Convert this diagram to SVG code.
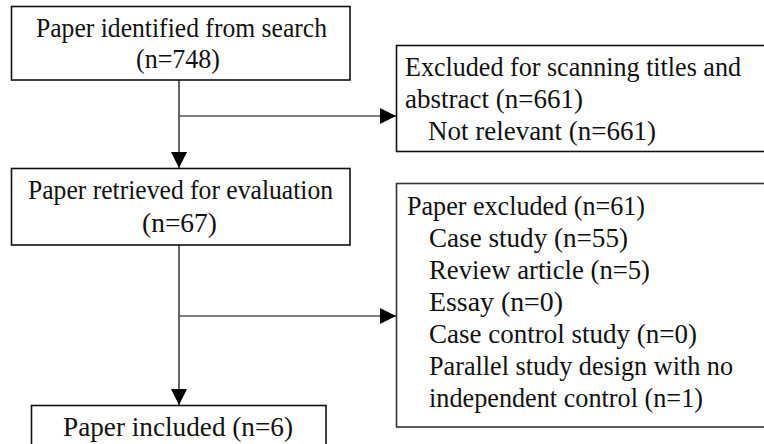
<svg xmlns="http://www.w3.org/2000/svg" width="764" height="444" viewBox="0 0 764 444">
<style>
.box{fill:#fff;stroke:#111;stroke-width:1.6}
.t{font-family:"Liberation Serif","Times New Roman",serif;font-size:27px;fill:#111}
.ln{stroke:#111;stroke-width:1.3;fill:none}
.br{stroke:#555;stroke-width:1.3;fill:none}
</style>
<defs>
<marker id="ah" markerWidth="16" markerHeight="16" refX="16" refY="8" orient="auto" markerUnits="userSpaceOnUse">
<path d="M0,0 L16,8 L0,16 Z" fill="#000"/>
</marker>
</defs>
<rect width="764" height="444" fill="#fff"/>
<g id="connectors">
<line class="ln" x1="179" y1="80" x2="179" y2="168" marker-end="url(#ah)"/>
<line class="br" x1="179" y1="116" x2="396" y2="116" marker-end="url(#ah)"/>
<line class="ln" x1="179" y1="245" x2="179" y2="405" marker-end="url(#ah)"/>
<line class="br" x1="179" y1="316" x2="396" y2="316" marker-end="url(#ah)"/>
</g>
<g id="n1">
<rect class="box" x="11.5" y="6.5" width="338.5" height="73.5"/>
<text class="t" x="36" y="37" textLength="291" lengthAdjust="spacingAndGlyphs">Paper identified from search</text>
<text class="t" x="136" y="68" textLength="84" lengthAdjust="spacingAndGlyphs">(n=748)</text>
</g>
<g id="n2">
<rect class="box" x="396.5" y="45.5" width="380" height="106"/>
<text class="t" x="405" y="76" textLength="336" lengthAdjust="spacingAndGlyphs">Excluded for scanning titles and</text>
<text class="t" x="405" y="108" textLength="178" lengthAdjust="spacingAndGlyphs">abstract (n=661)</text>
<text class="t" x="428" y="140" textLength="228" lengthAdjust="spacingAndGlyphs">Not relevant (n=661)</text>
</g>
<g id="n3">
<rect class="box" x="11.5" y="168.5" width="338.5" height="76.5"/>
<text class="t" x="28" y="199" textLength="305" lengthAdjust="spacingAndGlyphs">Paper retrieved for evaluation</text>
<text class="t" x="142" y="232" textLength="75" lengthAdjust="spacingAndGlyphs">(n=67)</text>
</g>
<g id="n4">
<rect class="box" x="396.5" y="183.5" width="380" height="243.5" style="stroke:#333"/>
<text class="t" x="407" y="215" textLength="238" lengthAdjust="spacingAndGlyphs">Paper excluded (n=61)</text>
<text class="t" x="429" y="247" textLength="199" lengthAdjust="spacingAndGlyphs">Case study (n=55)</text>
<text class="t" x="429" y="279" textLength="221" lengthAdjust="spacingAndGlyphs">Review article (n=5)</text>
<text class="t" x="429" y="311" textLength="134" lengthAdjust="spacingAndGlyphs">Essay (n=0)</text>
<text class="t" x="429" y="343" textLength="268" lengthAdjust="spacingAndGlyphs">Case control study (n=0)</text>
<text class="t" x="429" y="375" textLength="304" lengthAdjust="spacingAndGlyphs">Parallel study design with no</text>
<text class="t" x="429" y="407" textLength="274" lengthAdjust="spacingAndGlyphs">independent control (n=1)</text>
</g>
<g id="n5">
<rect class="box" x="31.5" y="405.5" width="294.5" height="50"/>
<text class="t" x="63" y="436" textLength="230" lengthAdjust="spacingAndGlyphs">Paper included (n=6)</text>
</g>
</svg>
